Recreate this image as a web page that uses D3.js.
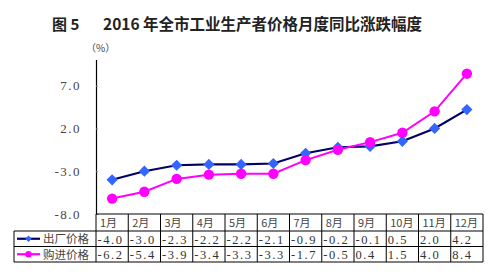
<!DOCTYPE html>
<html>
<head>
<meta charset="utf-8">
<script src="https://cdn.jsdelivr.net/npm/d3@7"></script>
<style>
  html, body { margin: 0; padding: 0; background: #fff; }
  svg { display: block; }
</style>
</head>
<body>
<svg id="chart" width="500" height="278"></svg>
<script>
// Months and year-on-year price changes (%)
const months = ["1月","2月","3月","4月","5月","6月","7月","8月","9月","10月","11月","12月"];
const factoryPrices = [-4.0, -3.0, -2.3, -2.2, -2.2, -2.1, -0.9, -0.2, -0.1, 0.5, 2.0, 4.2];
const purchasePrices = [-6.2, -5.4, -3.9, -3.4, -3.3, -3.3, -1.7, -0.5, 0.4, 1.5, 4.0, 8.4];
const seriesNames = ["出厂价格", "购进价格"];
const yTicks = [-8, -3, 2, 7];

(function () {
const svg = d3.select("#chart");
const numFont = "'Liberation Serif', 'DejaVu Serif', serif";
const cjkFont = "'Noto Sans CJK SC', sans-serif";

const plotLeft = 96, plotRight = 483, plotTop = 60, plotBottom = 214;

const x = d3.scaleBand().domain(months).range([plotLeft, plotRight]).padding(0);
const y = d3.scaleLinear().domain([-8, 10]).range([plotBottom, plotTop]);

// Title
svg.append("text").attr("x", 52).attr("y", 30)
  .attr("font-family", cjkFont).attr("font-weight", "bold").attr("font-size", 15)
  .attr("fill", "#222").text("图 5");
svg.append("text").attr("x", 103).attr("y", 30)
  .attr("font-family", cjkFont).attr("font-weight", "bold").attr("font-size", 15.5)
  .attr("fill", "#222").text("2016 年全市工业生产者价格月度同比涨跌幅度");

// Unit label
svg.append("text").attr("x", 86).attr("y", 52)
  .attr("font-family", cjkFont).attr("font-size", 10).attr("fill", "#444").text("（%）");

// Y axis
const yAxis = d3.axisRight(y).tickValues(yTicks).tickSize(2).tickFormat("");
const ya = svg.append("g").attr("transform", `translate(${plotLeft},0)`).call(yAxis);
ya.select(".domain").attr("stroke", "#000").attr("stroke-width", 1.2).attr("d", `M0.5,${plotTop}V${plotBottom}`);
ya.selectAll(".tick line").attr("stroke", "#888");

svg.append("g").selectAll("text").data(yTicks).join("text")
  .attr("x", 81).attr("y", d => y(d) + 4.5)
  .attr("text-anchor", "end")
  .attr("font-family", numFont).attr("font-size", 13).attr("fill", "#444")
  .attr("letter-spacing", 1.5)
  .text(d => d3.format(".1f")(d).replace("−", "-"));

// Series lines and markers
const cx = m => x(m) + x.bandwidth() / 2;
const line = d3.line().x((d, i) => cx(months[i])).y(d => y(d));

svg.append("path").datum(factoryPrices).attr("d", line)
  .attr("fill", "none").attr("stroke", "#000066").attr("stroke-width", 2.2);
svg.append("path").datum(purchasePrices).attr("d", line)
  .attr("fill", "none").attr("stroke", "#ff00ff").attr("stroke-width", 2);

const diamondPath = r => `M0,${-r}L${r},0L0,${r}L${-r},0Z`;
svg.append("g").selectAll("path").data(factoryPrices).join("path")
  .attr("d", diamondPath(5.6))
  .attr("transform", (d, i) => `translate(${cx(months[i])},${y(d)})`)
  .attr("fill", "#3366ff");
svg.append("g").selectAll("circle").data(purchasePrices).join("circle")
  .attr("cx", (d, i) => cx(months[i])).attr("cy", d => y(d)).attr("r", 5.2)
  .attr("fill", "#ff00ff");

// Data table below the axis
const rowTop = [plotBottom, 231, 246.5, 262];
const tableLeft = 14;
const tbl = svg.append("g").attr("stroke", "#000").attr("stroke-width", 1);
tbl.append("line").attr("x1", plotLeft).attr("x2", plotRight).attr("y1", rowTop[0]).attr("y2", rowTop[0]);
[1, 2, 3].forEach(r => {
  tbl.append("line").attr("x1", tableLeft).attr("x2", plotRight).attr("y1", rowTop[r]).attr("y2", rowTop[r]);
});
const colEdges = months.map(m => x(m)).concat([plotRight]);
tbl.selectAll("line.v").data(colEdges).join("line").attr("class", "v")
  .attr("x1", d => d).attr("x2", d => d).attr("y1", rowTop[0]).attr("y2", rowTop[3]);
tbl.append("line").attr("x1", tableLeft).attr("x2", tableLeft).attr("y1", rowTop[1]).attr("y2", rowTop[3]);

// header row
svg.append("g").selectAll("text").data(months).join("text")
  .attr("x", m => x(m) + 4).attr("y", rowTop[0] + 13)
  .attr("font-family", cjkFont).attr("font-size", 11).attr("fill", "#444")
  .text(m => m);

// value rows
const rows = [factoryPrices, purchasePrices];
rows.forEach((vals, r) => {
  svg.append("g").selectAll("text").data(vals).join("text")
    .attr("x", (d, i) => x(months[i]) + 1.5).attr("y", rowTop[r + 1] + 12.5)
    .attr("font-family", numFont).attr("font-size", 12.5).attr("fill", "#333")
    .attr("letter-spacing", 1.6)
    .text(d => d3.format(".1f")(d).replace("−", "-"));
});

// legend keys in the first column
const keyColors = [["#000066", "#3366ff"], ["#ff00ff", "#ff00ff"]];
seriesNames.forEach((name, r) => {
  const yy = (rowTop[r + 1] + rowTop[r + 2]) / 2;
  svg.append("line").attr("x1", 17).attr("x2", 40).attr("y1", yy).attr("y2", yy)
    .attr("stroke", keyColors[r][0]).attr("stroke-width", 2.2);
  if (r === 0) {
    svg.append("path").attr("d", diamondPath(3.2))
      .attr("transform", `translate(28.5,${yy})`).attr("fill", keyColors[r][1]);
  } else {
    svg.append("circle").attr("cx", 28.5).attr("cy", yy).attr("r", 3.2).attr("fill", keyColors[r][1]);
  }
  svg.append("text").attr("x", 43).attr("y", yy + 4.5)
    .attr("font-family", cjkFont).attr("font-size", 11.5).attr("fill", "#444")
    .text(name);
});
})();
</script>
</body>
</html>
